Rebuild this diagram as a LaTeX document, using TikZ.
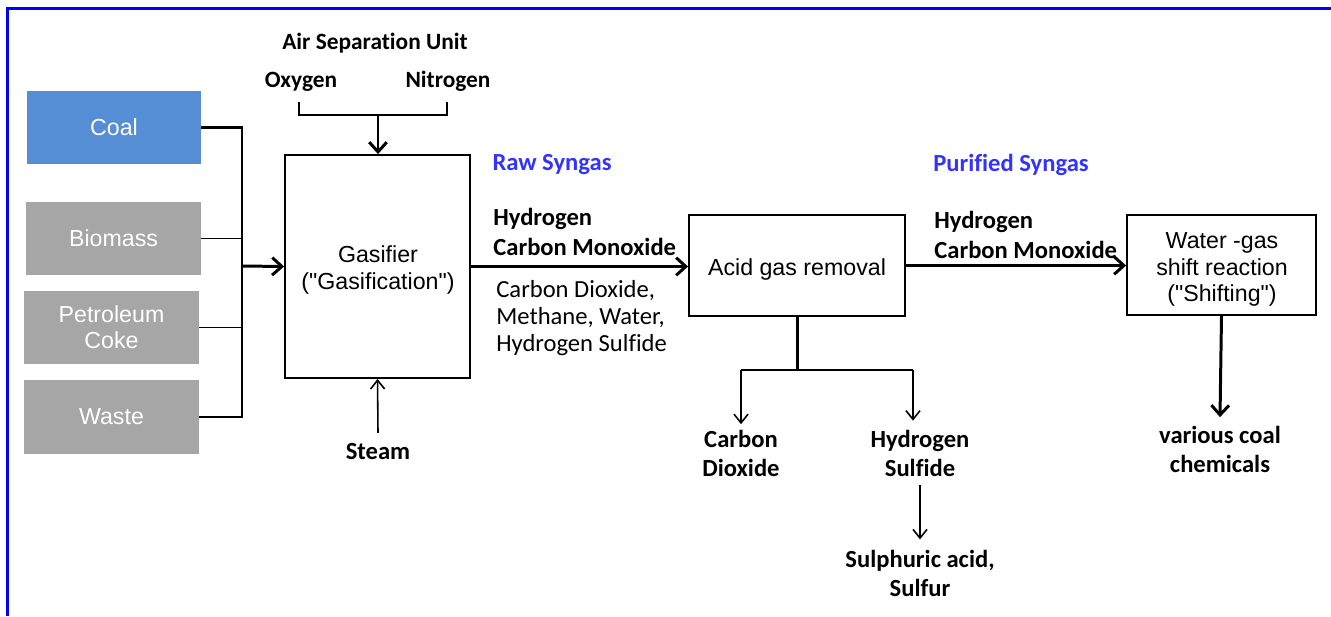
\documentclass[tikz,border=0pt]{standalone}
\usepackage{fontspec}
\setmainfont{Carlito}[Ligatures={NoCommon}]
\newfontfamily\arialf{Liberation Sans}
\usetikzlibrary{arrows.meta}
\definecolor{coalblue}{HTML}{558ED5}
\definecolor{srcgray}{HTML}{A6A6A6}
\definecolor{synblue}{HTML}{3333FF}
\definecolor{frameblue}{HTML}{0000FF}
\begin{document}
\begin{tikzpicture}[x=0.02cm,y=-0.02cm,
  src/.style={rectangle, minimum width=3.5cm, minimum height=1.46cm, inner sep=0pt,
    text=white, align=center, font=\arialf\fontsize{13.2}{14.8}\selectfont},
  proc/.style={rectangle, draw, line width=1.1pt, inner sep=0pt},
  boxtext/.style={inner sep=0pt, align=center, font=\arialf\fontsize{13.2}{15}\selectfont},
  lbl/.style={inner sep=0pt, align=center, font=\bfseries\fontsize{14}{16.5}\selectfont},
  lbltop/.style={inner sep=0pt, font=\bfseries\fontsize{13.3}{16}\selectfont},
  blbl/.style={inner sep=0pt, text=synblue, font=\bfseries\fontsize{14}{16}\selectfont},
  gaslbl/.style={inner sep=0pt, align=left, anchor=west, font=\bfseries\fontsize{14}{17.1}\selectfont},
  reglbl/.style={inner sep=0pt, align=left, anchor=west, font=\fontsize{14}{15.4}\selectfont},
  thickl/.style={line width=1.7pt},
  thinl/.style={line width=0.9pt},
  bracketl/.style={line width=1.1pt},
  thickarr/.style={line width=1.7pt, -{Straight Barb[length=5.5pt,width=10pt]}},
  thinarr/.style={line width=0.9pt, -{Straight Barb[length=5pt,width=8pt]}}
]
\useasboundingbox (0,0) rectangle (1331,616);
\draw[frameblue, line width=1.2pt] (7.5,616) -- (7.5,8.5) -- (1331,8.5);

% feed boxes
\node[src, fill=coalblue, minimum width=3.48cm] (coal) at (114,127.5) {Coal};
\node[src, fill=srcgray] (bio) at (113.5,238.5) {Biomass};
\node[src, fill=srcgray] (pet) at (111.5,327.5) {Petroleum\\Coke};
\node[src, fill=srcgray, minimum height=1.48cm] (waste) at (111.5,417) {Waste};

% process boxes
\node[proc, minimum width=3.7cm, minimum height=4.46cm] (gas) at (377.5,266.5) {};
\node[boxtext] (gastext) at (378,270) {Gasifier\\("Gasification")};
\node[proc, minimum width=4.32cm, minimum height=2.02cm] (agr) at (797,265.5) {};
\node[boxtext] (agrtext) at (797,269) {Acid gas removal};
\node[proc, minimum width=3.78cm, minimum height=2cm] (wgs) at (1221.5,265) {};
\node[boxtext] (wgstext) at (1222,269.5) {Water -gas\\shift reaction\\("Shifting")};

% top labels
\node[lbltop] (asu) at (375,43.5) {Air Separation Unit};
\node[lbltop] (oxy) at (301,81.5) {Oxygen};
\node[lbltop] (nit) at (448,81.5) {Nitrogen};
\coordinate (oxyfoot) at (299,102);
\coordinate (nitfoot) at (447,102);
\coordinate (asujoin) at (378,115);
\draw[bracketl] (oxyfoot) |- (asujoin) -| (nitfoot);
\draw[thickarr] (asujoin) -- (asujoin |- gas.north);

% steam
\node[lbl] (steam) at (378,452) {Steam};
\draw[thinarr] ([yshift=6pt]steam.north) -- (gas.south);

% feed bus
\coordinate (bus) at (242,266);
\draw[thickl] (coal.east) -| (bus);
\draw[thinl] (bio.east) -- (bio.east -| bus);
\draw[thinl] (pet.east) -- (pet.east -| bus);
\draw[thinl] (waste.east) -| (bus);
\draw[thickarr] (bus) -- (gas.west);

% raw syngas
\node[blbl] (raw) at (552,164.5) {Raw Syngas};
\node[gaslbl] (rawmain) at (493,232) {Hydrogen\\Carbon Monoxide};
\node[reglbl] (rawother) at (496,318) {Carbon Dioxide,\\Methane, Water,\\Hydrogen Sulfide};
\draw[thickarr] (gas.east) -- (gas.east -| agr.west);

% purified syngas
\node[blbl] (pure) at (1011,164.5) {Purified Syngas};
\node[gaslbl] (puremain) at (934,235) {Hydrogen\\Carbon Monoxide};
\draw[thickarr] (agr.east) -- (agr.east -| wgs.west);

% acid gas removal outputs
\node[lbl] (co2) at (741,453) {Carbon\\Dioxide};
\node[lbl] (h2s) at (920,453) {Hydrogen\\Sulfide};
\node[lbl] (sulph) at (920,573.5) {Sulphuric acid,\\Sulfur};
\coordinate (agrsplit) at (797,370);
\coordinate (co2top) at (741,370);
\coordinate (h2stop) at (913,370);
\draw[thickl] (agr.south) -- (agrsplit);
\draw[thinl] (co2top) -- (h2stop);
\draw[thinarr] (co2top) -- ([yshift=3pt]co2.north);
\draw[thinarr] (h2stop) -- ([yshift=5pt]h2stop |- h2s.north);
\draw[thinarr] ([yshift=-5pt]h2s.south) -- ([yshift=6pt]sulph.north);

% shift outputs
\node[lbl] (chem) at (1220,449.5) {various coal\\chemicals};
\draw[thickarr] (wgs.south) -- ([yshift=5pt]chem.north);
\end{tikzpicture}
\end{document}
